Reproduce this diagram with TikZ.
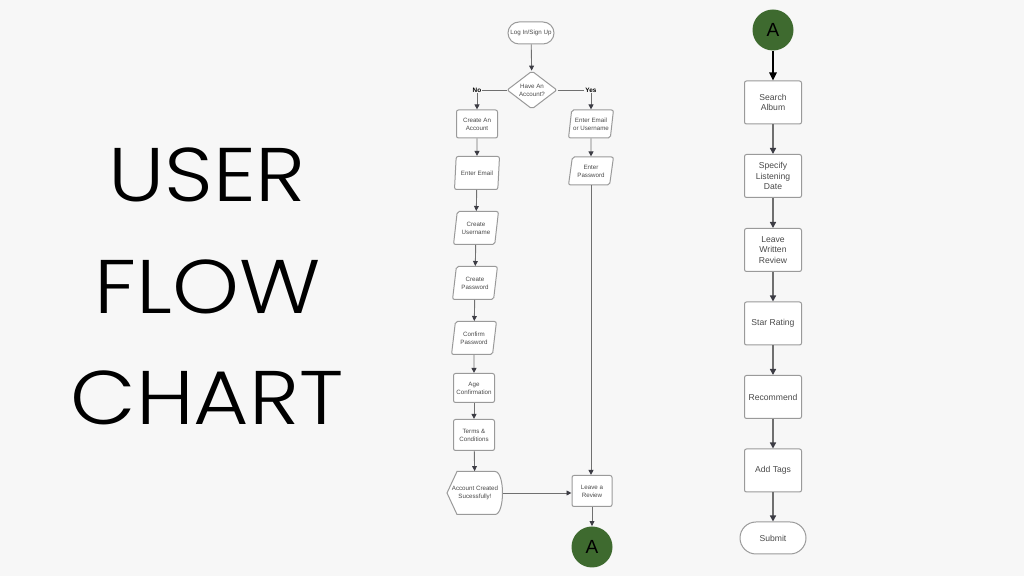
\documentclass[tikz,border=0pt]{standalone}
\usepackage{fontspec}
\setmainfont{Liberation Sans}
\newfontfamily\titlefont[FakeStretch=1.12]{Poppins Light}
\usetikzlibrary{shapes.geometric,arrows.meta}
\definecolor{bg}{HTML}{F7F7F7}
\definecolor{boxline}{HTML}{9A9A9A}
\definecolor{linegray}{HTML}{707070}
\definecolor{tipgray}{HTML}{3C3C44}
\definecolor{textgray}{HTML}{4A4A4A}
\definecolor{connect}{HTML}{3E6A2F}
\begin{document}
\begin{tikzpicture}[x=0.5pt,y=-0.5pt,
    small/.style={font=\fontsize{3.1}{4}\selectfont},
    big/.style={font=\fontsize{4.3}{5.4}\selectfont},
    box/.style={draw=boxline, fill=white, rounded corners=1pt, align=center, text=textgray, inner sep=0.5pt, line width=0.5pt},
    proc/.style={box, small, minimum width=20.5pt, minimum height=14.5pt},
    io/.style={box, small, trapezium, trapezium left angle=78, trapezium right angle=102, trapezium stretches=true, minimum width=22.5pt, minimum height=16.5pt},
    pill/.style={box, rounded corners=#1},
    stepbox/.style={box, big, minimum width=28.5pt, minimum height=21.5pt},
    conn/.style={circle, fill=connect, minimum size=20.5pt, inner sep=0pt, font=\fontsize{9.5}{9.5}\selectfont},
    arr/.style={draw=linegray, line width=0.45pt, -{Triangle[length=2.5pt,width=2.4pt,color=tipgray]}},
    bigarr/.style={draw=linegray, line width=0.7pt, -{Triangle[length=3pt,width=3pt,color=tipgray]}},
    choice/.style={font=\fontsize{3.2}{4}\selectfont\bfseries, fill=bg, inner sep=0.6pt},
    title/.style={font=\titlefont\fontsize{38}{38}\selectfont}]
\fill[bg] (0,0) rectangle (1024,576);
\useasboundingbox (0,0) rectangle (1024,576);

\node[title] (user) at (207,175) {USER};
\node[title] (flow) at (208,287) {FLOW};
\node[title] (chart) at (207,398) {CHART};

\node[pill=5.5pt, small, minimum width=23pt, minimum height=11pt] (login) at (531,33) {Log In/Sign Up};
\node[box, small, diamond, minimum width=25pt, minimum height=18.5pt, inner sep=0pt] (acct) at (532,90) {Have An\\Account?};
\node[proc, minimum height=14pt] (create) at (477,124) {Create An\\Account};
\node[io] (email) at (477,173) {Enter Email};
\node[io] (uname) at (476,228) {Create\\Username};
\node[io] (cpass) at (475,283) {Create\\Password};
\node[io] (conf) at (474,338) {Confirm\\Password};
\node[proc] (age) at (474,388) {Age\\Confirmation};
\node[proc, minimum height=15.5pt] (terms) at (474,435) {Terms \&\\Conditions};
\filldraw[draw=boxline, fill=white, line width=0.5pt, shift={(475,493)}] (-28,0) -- (-18,-21.5) -- (20,-21.5) .. controls (30,-21.5) and (30,21.5) .. (20,21.5) -- (-18,21.5) -- cycle;
\node[small, align=center, text=textgray, minimum width=28pt, minimum height=21.5pt, inner sep=0pt] (done) at (475,493) {Account Created\\Sucessfully!};

\node[io, minimum height=14pt] (login2) at (591,124) {Enter Email\\or Username};
\node[io, minimum height=14pt] (pass) at (591,171) {Enter\\Password};
\node[proc, minimum width=20pt, minimum height=15.5pt] (review) at (592,491) {Leave a\\Review};
\node[conn] (a1) at (592,547) {A};

\draw[arr] (login) -- (acct);
\draw[arr] (acct.west) -| node[choice, pos=0.5] {No} (create);
\draw[arr] (acct.east) -| node[choice, pos=0.5] {Yes} (login2);
\draw[arr] (create) -- (email);
\draw[arr] (email) -- (uname);
\draw[arr] (uname) -- (cpass);
\draw[arr] (cpass) -- (conf);
\draw[arr] (conf) -- (age);
\draw[arr] (age) -- (terms);
\draw[arr] (terms) -- (done);
\draw[arr] (login2) -- (pass);
\draw[arr] (pass) -- (pass |- review.north);
\draw[arr] (done.east) -- (done.east -| review.west);
\draw[arr] (review) -- (a1);

\node[conn] (a2) at (773,30) {A};
\node[stepbox] (search) at (773,102.5) {Search\\Album};
\node[stepbox] (date) at (773,176) {Specify\\Listening\\Date};
\node[stepbox] (written) at (773,250) {Leave\\Written\\Review};
\node[stepbox] (stars) at (773,323.5) {Star Rating};
\node[stepbox] (rec) at (773,397) {Recommend};
\node[stepbox] (tags) at (773,470.5) {Add Tags};
\node[pill=8pt, big, minimum width=33pt, minimum height=16pt] (submit) at (773,538) {Submit};

\draw[line width=1pt, -{Triangle[length=4pt,width=3.6pt]}] (a2) -- (search);
\draw[bigarr] (search) -- (date);
\draw[bigarr] (date) -- (written);
\draw[bigarr] (written) -- (stars);
\draw[bigarr] (stars) -- (rec);
\draw[bigarr] (rec) -- (tags);
\draw[bigarr] (tags) -- (submit);
\end{tikzpicture}
\end{document}
